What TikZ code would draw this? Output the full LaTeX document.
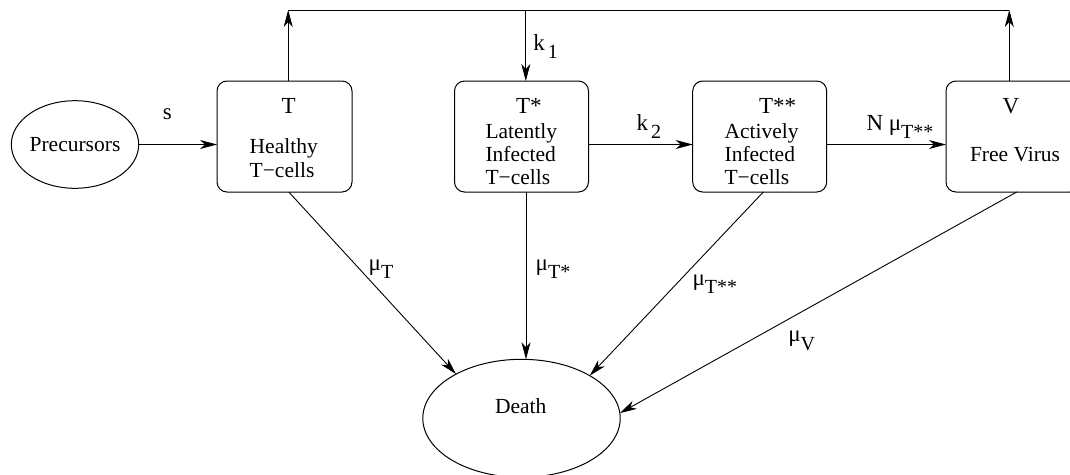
\documentclass[tikz,border=0pt]{standalone}
\usepackage{fontspec}
\setmainfont{Liberation Serif}
\usetikzlibrary{arrows.meta,shapes.geometric}
\newcommand\mysub[1]{\raisebox{-8.5pt}{\fontsize{20}{20}\selectfont #1}}
\begin{document}
\begin{tikzpicture}[x=1pt,y=-1pt,
  font=\fontsize{21.5}{24}\selectfont,
  every node/.style={inner sep=0pt, outer sep=0pt},
  box/.style={draw, rounded corners=10pt, line width=1pt, minimum width=134pt, minimum height=111pt},
  oval/.style={draw, ellipse, line width=1pt},
  txt/.style={anchor=west, text height=14pt, text depth=0pt},
  ttl/.style={text height=15pt, text depth=0pt, font=\fontsize{23}{24}\selectfont},
  lbl/.style={anchor=base west, font=\fontsize{23}{24}\selectfont},
  arr/.style={-{Stealth[length=17pt,width=9pt,inset=5pt]}, line width=0.9pt}
]
\useasboundingbox (0,0) rectangle (1070,474);
% shapes
\node[oval, minimum width=127.4pt, minimum height=87.6pt, label={center:Precursors}] (P) at (75,144.5) {};
\node[box, minimum width=135pt] (T) at (284.5,136.5) {};
\node[box] (Ts) at (521.5,136.5) {};
\node[box] (Tss) at (759.7,136.5) {};
\node[box] (V) at (1013,136.5) {};
\node[oval, minimum width=197.4pt, minimum height=118pt] (D) at (521.5,418.3) {};
% texts in boxes
\node[ttl] (tT) at (288.6,106) {T};
\node[txt] (tT1) at (249.7,146.7) {Healthy};
\node[txt] (tT2) at (249.7,170) {T−cells};
\node[ttl, anchor=west] (tTs) at (516,106) {T*};
\node[txt] (tTs1) at (485.5,131) {Latently};
\node[txt] (tTs2) at (485.5,154) {Infected};
\node[txt] (tTs3) at (485.5,177) {T−cells};
\node[ttl, anchor=west] (tTss) at (759,106) {T**};
\node[txt] (tTss1) at (724.6,131) {Actively};
\node[txt] (tTss2) at (724.6,154) {Infected};
\node[txt] (tTss3) at (724.6,177) {T−cells};
\node[ttl] (tV) at (1011,106) {V};
\node[txt] (tV1) at (970,154) {Free Virus};
\node[anchor=base] (tD) at (520.7,413.7) {Death};
% feedback line
\coordinate (top1) at (288.2,10);
\coordinate (top2) at (1009.3,10);
\coordinate (topk) at (525.8,10);
\draw[line width=1pt] (top1) -- (top2);
\draw[arr] (T.north -| top1) -- (top1);
\draw[arr] (V.north -| top2) -- (top2);
\draw[arr] (topk) -- (Ts.north -| topk);
% horizontal flow
\draw[arr] (P.east) -- (P.east -| T.west);
\draw[arr] (Ts.east |- P.east) -- (Tss.west |- P.east);
\draw[arr] (Tss.east |- P.east) -- (V.west |- P.east);
% deaths
\draw[arr] ([xshift=4.3pt]T.south) -- (D.146);
\draw[arr] ([xshift=4.5pt]Ts.south) -- ([xshift=4.5pt]D.north);
\draw[arr] ([xshift=3.6pt]Tss.south) -- (D.32);
\draw[arr] ([xshift=3.7pt]V.south) -- (D.3.6);
% labels
\node[lbl] (ls) at (162.8,119.9) {s};
\node[lbl] (lk1) at (533.4,50) {k\hspace{3pt}\mysub{1}};
\node[lbl] (lk2) at (636.7,130) {k\hspace{3pt}\mysub{2}};
\node[lbl] (lN) at (866.5,130) {N μ\mysub{T**}};
\node[lbl] (lmT) at (368.7,270) {μ\mysub{T}};
\node[lbl] (lmTs) at (535.7,270) {μ\mysub{T*}};
\node[lbl] (lmTss) at (692.5,285) {μ\mysub{T**}};
\node[lbl] (lmV) at (788.3,341.7) {μ\mysub{V}};
\end{tikzpicture}
\end{document}
